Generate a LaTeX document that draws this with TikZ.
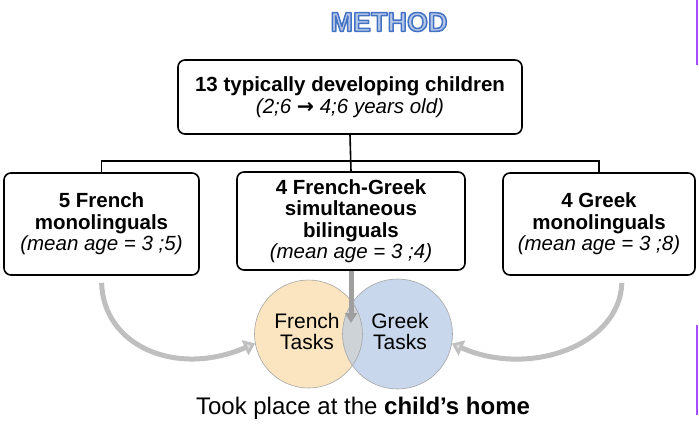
\documentclass[tikz,border=0pt]{standalone}
\usepackage{fontspec}
\setmainfont{Liberation Sans}
\newfontfamily\arrowfont{DejaVu Sans}
\usetikzlibrary{arrows.meta}
\definecolor{frenchfill}{HTML}{FBE5C1}
\definecolor{greekfill}{HTML}{C8D7EC}
\definecolor{lapfill}{HTML}{CDD3D6}
\definecolor{slidemark}{HTML}{A64DFF}
% hollow title letters: fill light, stroke dark blue
\newcommand{\hollowtext}[1]{%
  \special{pdf:literal direct 0.706 0.78 0.906 rg 0.267 0.447 0.769 RG 1.5 w 1 j 2 Tr}#1%
  \special{pdf:literal direct 0 Tr 1 w 0 j 0 g 0 G}}
\begin{document}
\begin{tikzpicture}[x=1pt,y=-1pt]

\tikzset{
	groupbox/.style={draw,line width=1.6pt,rounded corners=7pt,align=center,
	inner sep=0pt,font=\fontsize{20.5}{21.5}\selectfont},
	tasktext/.style={align=center,font=\fontsize{21}{21}\selectfont},
	bend arrow/.style={draw=gray!50,line width=5pt,
	-{Triangle[width=16pt,length=11pt,fill=gray!25]},shorten <=7pt},
	}
	\useasboundingbox (0,0) rectangle (699,424);

        %TITLE
        \node[font=\fontsize{27}{27}\bfseries] (title) at (389,22) {\hollowtext{METHOD}};

        %BOXES
        \node[groupbox,minimum width=344,minimum height=74,
        font=\fontsize{20.5}{22.5}\selectfont] (all) at (350,97)
        {\textbf{13 typically developing children}\\\textit{(2;6 {\arrowfont\upshape\bfseries →} 4;6 years old)}};
        \node[groupbox,minimum width=195,minimum height=102] (fr) at (101.5,224)
        {\textbf{5 French}\\\textbf{monolinguals}\\\textit{(mean age = 3 ;5)}};
        \node[groupbox,minimum width=228,minimum height=98] (bi) at (351,221)
        {\textbf{4 French-Greek}\\\textbf{simultaneous}\\\textbf{bilinguals}\\\textit{(mean age = 3 ;4)}};
        \node[groupbox,minimum width=192,minimum height=102] (gr) at (599,224)
        {\textbf{4 Greek}\\\textbf{monolinguals}\\\textit{(mean age = 3 ;8)}};

        %TREE
        \coordinate (split) at (351,161);
        \draw[line width=1.6pt] (all.south) -- (bi.north);
        \draw[line width=1.6pt] (fr.north) |- (split) -| (gr.north);

        %VENN
        \node[circle,fill=frenchfill,minimum size=108,inner sep=0pt] (french) at (308.5,334) {};
        \node[circle,fill=greekfill,minimum size=110,inner sep=0pt] (greek) at (397.5,334) {};
        \begin{scope}
        \clip (308.5,334) circle (54);
        \fill[lapfill] (397.5,334) circle (55);
        \end{scope}
        \draw[gray!70,line width=0.6pt] (308.5,334) circle (54);
        \draw[gray!70,line width=0.6pt] (397.5,334) circle (55);
        \node[tasktext] (frtext) at (307,331) {French\\Tasks};
        \node[tasktext] (grtext) at (400,331) {Greek\\Tasks};

        %ARROWS
        \coordinate (lap) at (351,323);
        \draw[gray!75,line width=5pt,-{Triangle[width=12pt,length=10pt]}] (bi.south) -- (lap);
        \draw[bend arrow] (fr.south) .. controls (103,345) and (175,378) .. (french.190);
        \draw[bend arrow] (622,276) .. controls (620,345) and (530,378) .. (greek.-10);

        %FOOTER
        \node[font=\fontsize{24}{24}\selectfont] (place) at (363,408)
        {Took place at the \textbf{child’s home}};

        %SLIDE MARKS
        \draw[slidemark,line width=2pt] (697,0) -- (697,65);
        \draw[slidemark,line width=2pt] (697,325) -- (697,415);
    \end{tikzpicture}
\end{document}
